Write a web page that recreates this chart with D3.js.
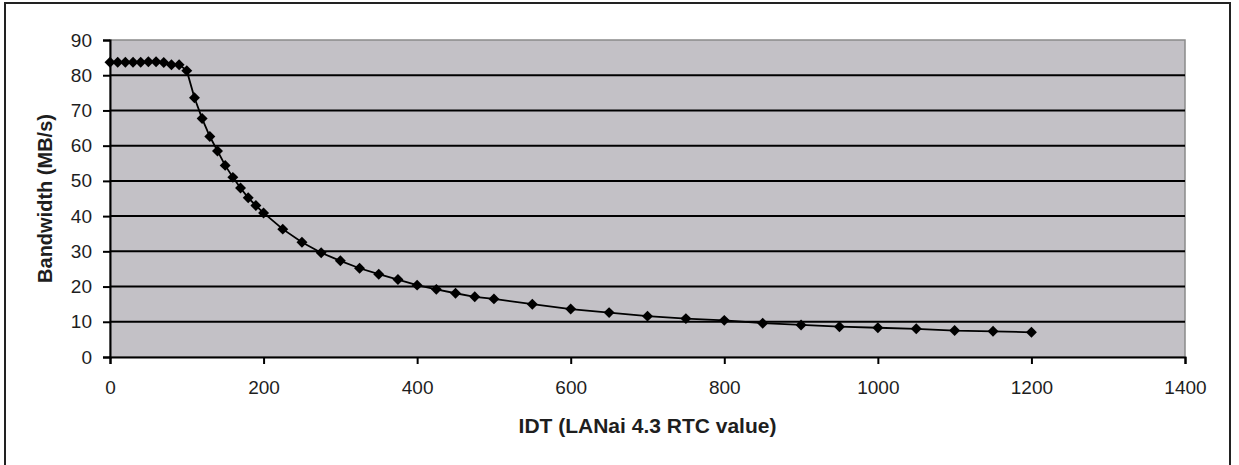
<!DOCTYPE html>
<html>
<head>
<meta charset="utf-8">
<script src="https://cdn.jsdelivr.net/npm/d3@7"></script>
<style>
  html, body { margin: 0; padding: 0; background: #fff; }
  svg { display: block; }
</style>
</head>
<body>
<div id="chart"></div>
<script>
// IDT setting vs measured bandwidth
const idtValues = [0, 10, 20, 30, 40, 50, 60, 70, 80, 90, 100,
  110, 120, 130, 140, 150, 160, 170, 180, 190, 200,
  225, 250, 275, 300, 325, 350, 375, 400, 425, 450, 475, 500,
  550, 600, 650, 700, 750, 800, 850, 900, 950, 1000, 1050, 1100, 1150, 1200];
const bandwidthValues = [83.7, 83.7, 83.7, 83.7, 83.7, 83.8, 83.8, 83.6, 83.0, 83.0, 81.3,
  73.6, 67.7, 62.6, 58.5, 54.4, 51.0, 48.0, 45.2, 43.0, 40.9,
  36.3, 32.6, 29.6, 27.3, 25.2, 23.5, 22.0, 20.4, 19.2, 18.1, 17.1, 16.5,
  15.0, 13.6, 12.6, 11.6, 10.9, 10.4, 9.6, 9.1, 8.6, 8.3, 8.0, 7.5, 7.3, 7.0];
const xTicks = [0, 200, 400, 600, 800, 1000, 1200, 1400];
const yTicks = [0, 10, 20, 30, 40, 50, 60, 70, 80, 90];
const xTitle = 'IDT (LANai 4.3 RTC value)';
const yTitle = 'Bandwidth (MB/s)';

const settings = {
  font: '"Liberation Sans", Arial, sans-serif',
  color: {
    text: '#1e1e1e',
    plot: '#c3c1c6',
    grid: '#000',
    frame: '#8a8a8a',
    line: '#000'
  }
};

const
  totalWidth = 1239,
  totalHeight = 465;
const
  plot = { left: 110, top: 40, right: 1185, bottom: 357 };

const data = idtValues.map(function(x, i){ return { x: x, y: bandwidthValues[i] }; });

//--------------------- SVG --------------------------------------------------
const svg = d3.select('#chart').append('svg')
  .attr('width', totalWidth)
  .attr('height', totalHeight)
  .style('font-family', settings.font);

// outer chart border
svg.append('rect')
  .attr('x', 5)
  .attr('y', 3)
  .attr('width', 1225)
  .attr('height', 500)
  .style('fill', 'none')
  .style('stroke', '#222')
  .style('stroke-width', 2);

//-------------------- Scales --------------------------------------------------
const xScale = d3.scaleLinear()
  .domain([0, 1400])
  .range([plot.left, plot.right]);

const yScale = d3.scaleLinear()
  .domain([0, 90])
  .range([plot.bottom, plot.top]);

//--------------------- Plot area ---------------------------------------------
svg.append('rect')
  .attr('x', plot.left)
  .attr('y', plot.top)
  .attr('width', plot.right - plot.left)
  .attr('height', plot.bottom - plot.top)
  .style('fill', settings.color.plot)
  .style('stroke', settings.color.frame)
  .style('stroke-width', 1.5);

svg.append('g')
  .selectAll('line')
  .data(yTicks.filter(function(d){ return d > 0 && d < 90; }))
  .enter()
  .append('line')
    .attr('x1', plot.left)
    .attr('x2', plot.right)
    .attr('y1', function(d){ return yScale(d); })
    .attr('y2', function(d){ return yScale(d); })
    .style('stroke', settings.color.grid)
    .style('stroke-width', 2);

//---------------------- Axis --------------------------------------------------
const xAxis = d3.axisBottom(xScale)
  .tickValues(xTicks)
  .tickSize(7)
  .tickPadding(17)
  .tickFormat(d3.format('d'));
const xAxisView = svg.append('g')
  .attr('transform', 'translate(0,' + plot.bottom + ')')
  .call(xAxis);

const yAxis = d3.axisLeft(yScale)
  .tickValues(yTicks)
  .tickSize(7)
  .tickPadding(11)
  .tickFormat(d3.format('d'));
const yAxisView = svg.append('g')
  .attr('transform', 'translate(' + plot.left + ',0)')
  .call(yAxis);

[xAxisView, yAxisView].forEach(function(view){
  view.selectAll('path')
    .style('stroke', '#000')
    .style('stroke-width', 2);
  view.selectAll('line')
    .style('stroke', '#000')
    .style('stroke-width', 2);
  view.selectAll('text')
    .style('fill', settings.color.text)
    .style('font-family', settings.font)
    .style('font-size', '19px');
});

// axis titles
svg.append('text')
  .attr('x', (plot.left + plot.right) / 2)
  .attr('y', 433)
  .attr('text-anchor', 'middle')
  .style('font-size', '21px')
  .style('font-weight', 'bold')
  .style('fill', settings.color.text)
  .text(xTitle);

svg.append('text')
  .attr('transform', 'translate(52,' + ((plot.top + plot.bottom) / 2) + ') rotate(-90)')
  .attr('text-anchor', 'middle')
  .style('font-size', '20px')
  .style('font-weight', 'bold')
  .style('fill', settings.color.text)
  .text(yTitle);

//---------------------Series -------------------------------------------------
const line = d3.line()
  .x(function(d){ return xScale(d.x); })
  .y(function(d){ return yScale(d.y); });

svg.append('path')
  .datum(data)
  .attr('d', line)
  .style('fill', 'none')
  .style('stroke', settings.color.line)
  .style('stroke-width', 1.8);

const marker = d3.symbol().type(d3.symbolSquare).size(60);

svg.append('g')
  .selectAll('path')
  .data(data)
  .enter()
  .append('path')
    .attr('d', marker)
    .attr('transform', function(d){
      return 'translate(' + xScale(d.x) + ',' + yScale(d.y) + ') rotate(45)';
    })
    .style('fill', '#000');
</script>
</body>
</html>
